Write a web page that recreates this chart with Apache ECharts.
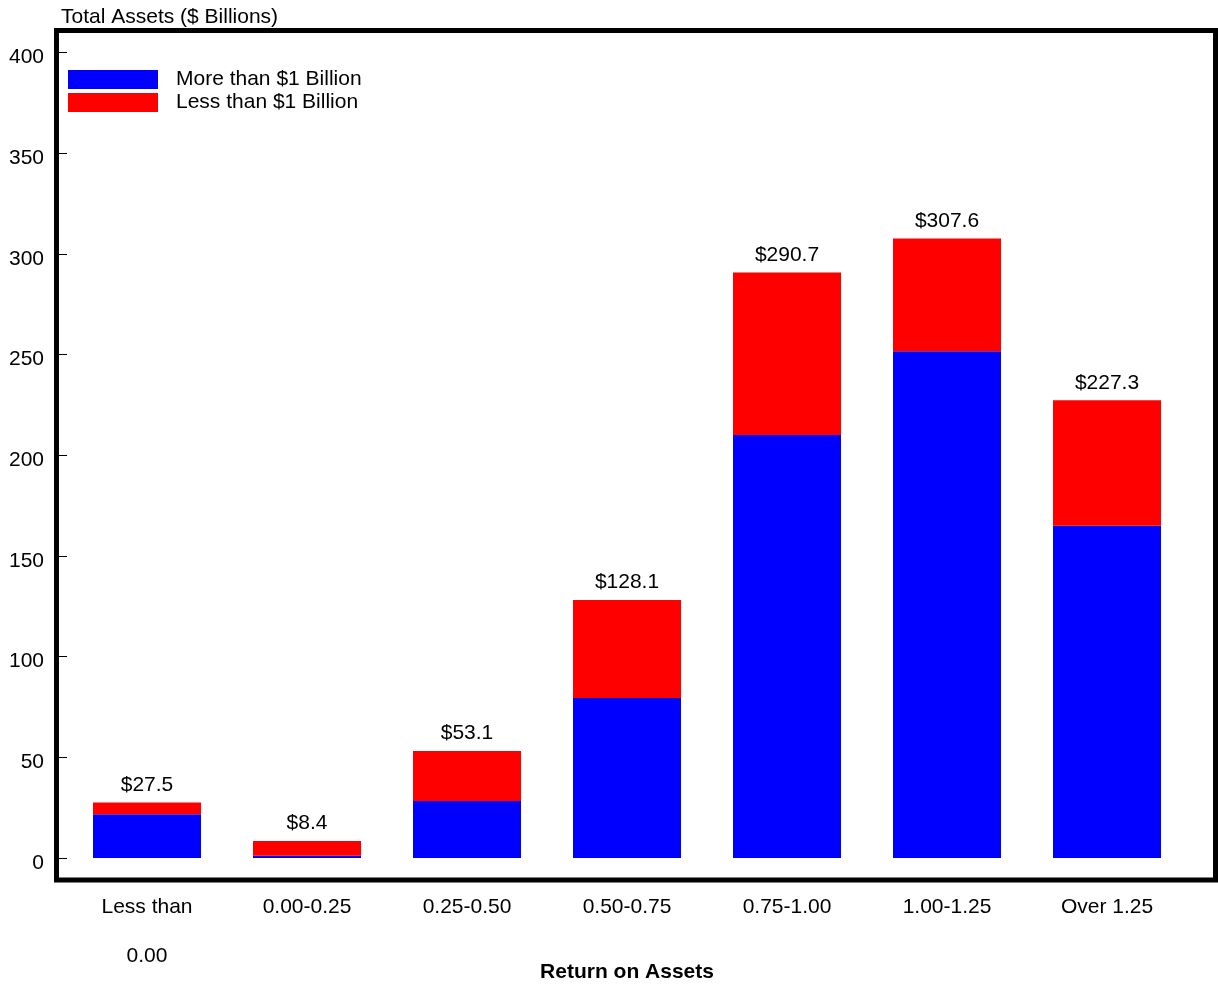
<!DOCTYPE html>
<html>
<head>
<meta charset="utf-8">
<script src="https://cdn.jsdelivr.net/npm/echarts@6/dist/echarts.min.js"></script>
<style>
  html, body { margin: 0; padding: 0; background: #fff; }
  #chart { width: 1218px; height: 987px; }
</style>
</head>
<body>
<div id="chart"></div>
<script>
// Return-on-assets buckets
const categories = ['Less than\n0.00', '0.00-0.25', '0.25-0.50', '0.50-0.75', '0.75-1.00', '1.00-1.25', 'Over 1.25'];
// Total assets in $ billions, by bank size
const largeBanks = [21.7, 1.1, 28.3, 79.4, 210.0, 251.7, 165.0];
const smallBanks = [5.8, 7.3, 24.8, 48.7, 80.7, 55.9, 62.3];
const yTicks = [0, 50, 100, 150, 200, 250, 300, 350, 400];

const FONT = '"Liberation Sans", Arial, Helvetica, sans-serif';

const chart = echarts.init(document.getElementById('chart'), null, { renderer: 'canvas' });

chart.setOption({
  animation: false,
  backgroundColor: '#ffffff',
  textStyle: { fontFamily: FONT, color: '#000' },
  title: {
    text: 'Total Assets ($ Billions)',
    left: 61,
    top: 7,
    padding: 0,
    textStyle: { fontFamily: FONT, fontSize: 21, fontWeight: 'normal', color: '#000' }
  },
  legend: {
    orient: 'vertical',
    left: 68,
    top: 69,
    padding: 0,
    itemWidth: 90,
    itemHeight: 19,
    itemGap: 2,
    selectedMode: false,
    textStyle: { fontFamily: FONT, fontSize: 21, color: '#000', padding: [0, 0, 0, 13] },
    data: [
      { name: 'More than $1 Billion', icon: 'rect' },
      { name: 'Less than $1 Billion', icon: 'rect' }
    ]
  },
  grid: { left: 67, right: 31, top: 52.5, bottom: 129, outerBoundsMode: 'none', containLabel: false },
  xAxis: {
    type: 'category',
    data: categories,
    axisLine: { show: false },
    axisTick: { show: false },
    axisLabel: {
      interval: 0,
      margin: 25,
      fontFamily: FONT,
      fontSize: 21,
      color: '#000',
      lineHeight: 49,
      verticalAlign: 'top'
    },
    name: 'Return on Assets',
    nameLocation: 'middle',
    nameGap: 104,
    nameMoveOverlap: false,
    nameTextStyle: { fontFamily: FONT, fontSize: 21, fontWeight: 'bold', color: '#000' }
  },
  yAxis: {
    type: 'value',
    min: yTicks[0],
    max: yTicks[yTicks.length - 1],
    interval: yTicks[1] - yTicks[0],
    offset: 8,
    axisLine: { show: false },
    axisTick: { show: true, inside: true, length: 8, lineStyle: { color: '#000', width: 1 } },
    splitLine: { show: false },
    axisLabel: {
      margin: 15,
      formatter: '{v|{value}}',
      rich: { v: { fontFamily: FONT, fontSize: 21, color: '#000', padding: [10, 0, 0, 0] } }
    }
  },
  series: [
    {
      name: 'More than $1 Billion',
      type: 'bar',
      stack: 'total',
      barWidth: '67.5%',
      itemStyle: { color: '#0000ff' },
      data: largeBanks
    },
    {
      name: 'Less than $1 Billion',
      type: 'bar',
      stack: 'total',
      barWidth: '67.5%',
      itemStyle: { color: '#ff0000' },
      label: {
        show: true,
        position: 'top',
        distance: 7,
        fontFamily: FONT,
        fontSize: 21,
        color: '#000',
        formatter: (p) => '$' + (largeBanks[p.dataIndex] + smallBanks[p.dataIndex]).toFixed(1)
      },
      data: smallBanks
    }
  ],
  graphic: [
    {
      type: 'rect',
      z: 100,
      silent: true,
      shape: { x: 56.5, y: 30.5, width: 1159, height: 849.5 },
      style: { fill: 'none', stroke: '#000', lineWidth: 5 }
    }
  ]
});
</script>
</body>
</html>
